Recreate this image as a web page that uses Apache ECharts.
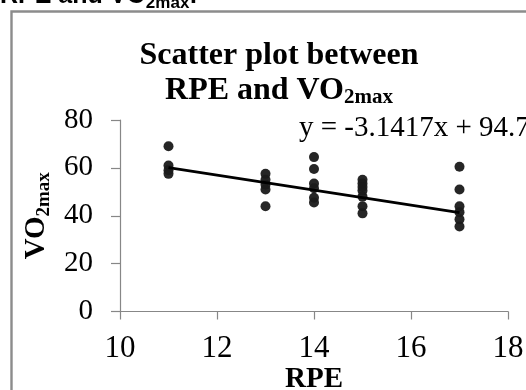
<!DOCTYPE html>
<html>
<head>
<meta charset="utf-8">
<script src="https://cdn.jsdelivr.net/npm/echarts@6/dist/echarts.min.js"></script>
<style>
  html, body { margin: 0; padding: 0; background: #fff; }
  #chart { width: 526px; height: 390px; }
</style>
</head>
<body>
<div id="chart"></div>
<script>
// RPE groups and the VO2max values
const rpe11 = [69, 61, 59, 57.5];
const rpe13 = [57.5, 55, 53, 51, 44];
const rpe14 = [64.5, 59.5, 53.5, 51.5, 47.5, 45.5];
const rpe15 = [55, 53.5, 52, 50.5, 48, 44, 41];
const rpe17 = [60.5, 51, 44, 41.5, 38.5, 35.5];

// linear trend line drawn by the spreadsheet, from its two ends
const trendLine = [[11, 60.1], [17, 41.3]];
const equationText = 'y = -3.1417x + 94.7';

const groups = [[11, rpe11], [13, rpe13], [14, rpe14], [15, rpe15], [17, rpe17]];
const points = [];
groups.forEach(([x, vals]) => vals.forEach(v => points.push([x, v])));

const serif = '"Liberation Serif", "Times New Roman", serif';
const axisGray = '#878787';

const chart = echarts.init(document.getElementById('chart'));

chart.setOption({
  backgroundColor: '#fff',
  animation: false,
  title: {
    text: '{t|Scatter plot between}\n{t|RPE and VO}{s|2max}',
    left: 274,
    textAlign: 'center',
    top: 33,
    textStyle: {
      rich: {
        t: { fontFamily: serif, fontWeight: 'bold', fontSize: 32, lineHeight: 35, color: '#000' },
        s: { fontFamily: serif, fontWeight: 'bold', fontSize: 21, lineHeight: 14, verticalAlign: 'bottom', color: '#000' }
      }
    }
  },
  grid: { left: 120, right: 18, top: 120, bottom: 78.5, containLabel: false, outerBoundsMode: 'none' },
  xAxis: {
    type: 'value',
    min: 10, max: 18, interval: 2,
    name: 'RPE',
    nameLocation: 'middle',
    nameGap: 50,
    nameTextStyle: { fontFamily: serif, fontWeight: 'bold', fontSize: 29, color: '#000', lineHeight: 29 },
    axisLine: { show: true, lineStyle: { color: axisGray, width: 1.2 } },
    axisTick: { show: true, length: 8, lineStyle: { color: axisGray, width: 1.2 } },
    axisLabel: { fontFamily: serif, fontSize: 31, color: '#000', margin: 22 },
    splitLine: { show: false }
  },
  yAxis: {
    type: 'value',
    min: 0, max: 80, interval: 20,
    name: '{t|VO}{s|2max}',
    nameLocation: 'middle',
    nameRotate: 90,
    nameGap: 60,
    nameTextStyle: {
      rich: {
        t: { fontFamily: serif, fontWeight: 'bold', fontSize: 29, lineHeight: 33, color: '#000' },
        s: { fontFamily: serif, fontWeight: 'bold', fontSize: 19, lineHeight: 12, verticalAlign: 'bottom', color: '#000' }
      }
    },
    axisLine: { show: true, lineStyle: { color: axisGray, width: 1.2 } },
    axisTick: { show: true, length: 9, lineStyle: { color: axisGray, width: 1.2 } },
    axisLabel: { fontFamily: serif, fontSize: 29, color: '#000', margin: 27 },
    splitLine: { show: false }
  },
  graphic: [
    {
      type: 'rect',
      shape: { x: 11.5, y: 11.5, width: 620, height: 500 },
      style: { fill: 'none', stroke: '#8c8c8c', lineWidth: 2.4 },
      silent: true
    },
    {
      type: 'text',
      left: 0,
      top: -16,
      style: {
        text: '{m|RPE and VO}{s|2max}{m|:}',
        rich: {
          m: { fontFamily: '"Liberation Sans", Arial, sans-serif', fontWeight: 'bold', fontSize: 25, lineHeight: 30, color: '#000' },
          s: { fontFamily: '"Liberation Sans", Arial, sans-serif', fontWeight: 'bold', fontSize: 17, lineHeight: 19, verticalAlign: 'bottom', color: '#000' }
        }
      },
      silent: true
    },
    {
      type: 'text',
      left: 299,
      top: 114,
      style: {
        text: equationText,
        fontFamily: serif,
        fontSize: 29,
        fill: '#000'
      },
      silent: true
    }
  ],
  series: [
    {
      name: 'VO2max',
      type: 'scatter',
      data: points,
      symbol: 'circle',
      symbolSize: 10,
      itemStyle: { color: '#1a1a1a', opacity: 0.95 },
      z: 2
    },
    {
      name: 'Trend',
      type: 'line',
      data: trendLine,
      symbol: 'none',
      lineStyle: { color: '#000', width: 3 },
      z: 3
    }
  ]
});
</script>
</body>
</html>
